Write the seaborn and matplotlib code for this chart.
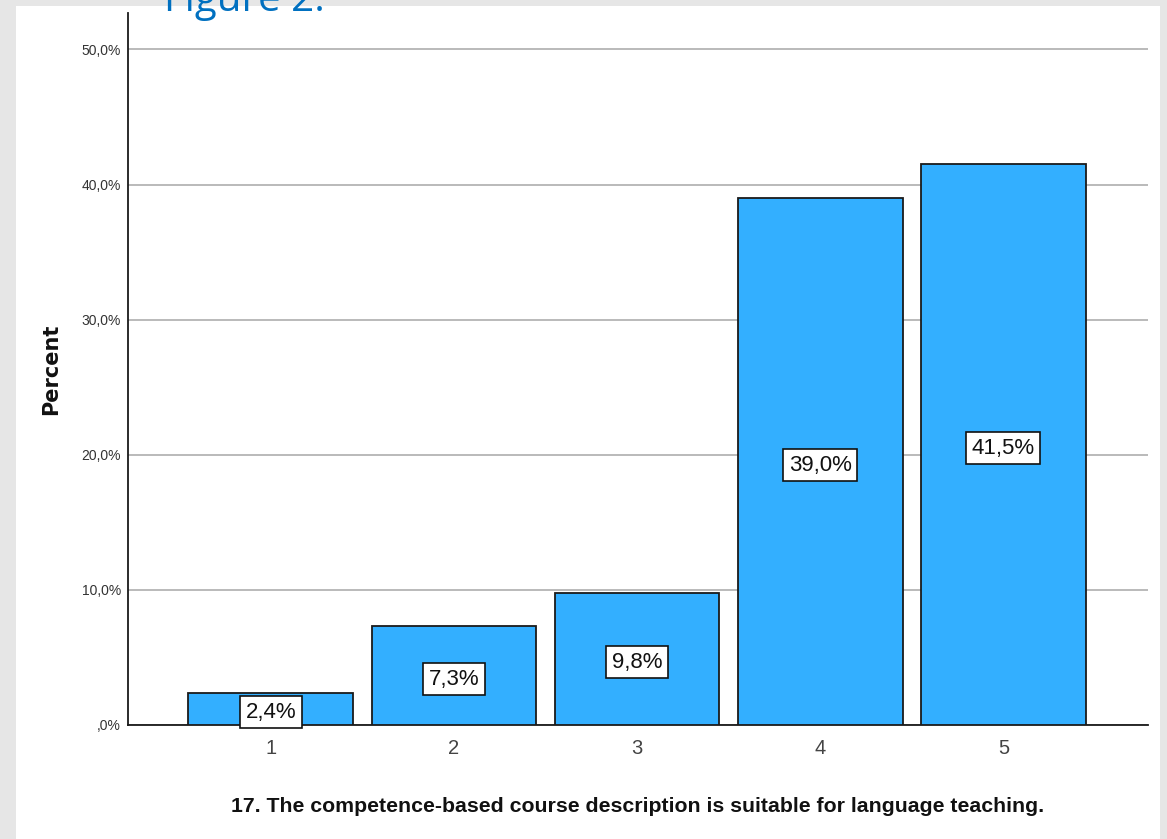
import matplotlib
matplotlib.use("Agg")
import matplotlib.pyplot as plt
import seaborn as sns
import pandas as pd
from matplotlib.patches import Rectangle
from matplotlib.ticker import FuncFormatter

categories = ["1", "2", "3", "4", "5"]
percents = [2.4, 7.3, 9.8, 39.0, 41.5]
bar_labels = ["2,4%", "7,3%", "9,8%", "39,0%", "41,5%"]
y_ticks = [0, 10, 20, 30, 40, 50]
x_title = "17. The competence-based course description is suitable for language teaching."
y_title = "Percent"
fig_title = "Figure 2."

sns.set_theme(style="white")
plt.rcParams['font.family'] = ["Liberation Sans", "DejaVu Sans"]

df = pd.DataFrame({"cat": categories, "pct": percents})

W, H = 1167, 839
fig = plt.figure(figsize=(W / 100, H / 100), dpi=100, facecolor="#e6e6e6")
fig.patches.append(Rectangle((16 / W, 0), (1160 - 16) / W, 1 - 6 / H,
                             transform=fig.transFigure, facecolor="white",
                             edgecolor="none", zorder=-5))

ax = fig.add_axes([128 / W, 1 - 725 / H, (1148 - 128) / W, (725 - 13) / H])
ax.set_zorder(2)
ax.set_facecolor("none")
sns.barplot(data=df, x="cat", y="pct", color="#33afff", width=0.9,
            edgecolor="#1a1a1a", linewidth=1.3, saturation=1, ax=ax, zorder=3)
for p in ax.patches:
    p.set_facecolor("#33afff")

ax.set_xlim(-0.78, 4.79)
ax.set_ylim(0, 52.7)
ax.set_yticks(y_ticks)


def fmt(v, _):
    s = ("%.1f" % v).replace(".", ",")
    if s.startswith("0,"):
        s = s[1:]
    return s + "%"


ax.yaxis.set_major_formatter(FuncFormatter(fmt))
ax.grid(axis="y", color="#b4b4b4", linewidth=1.3, zorder=0)
ax.grid(axis="x", visible=False)
ax.set_axisbelow(True)
for s in ["top", "right"]:
    ax.spines[s].set_visible(False)
for s in ["left", "bottom"]:
    ax.spines[s].set_color("#1a1a1a")
    ax.spines[s].set_linewidth(1.3)
ax.tick_params(axis="y", length=0, pad=5, labelsize=10, labelcolor="#333333")
ax.tick_params(axis="x", length=0, pad=10, labelsize=14.5, labelcolor="#444444")

for i, (v, lab) in enumerate(zip(percents, bar_labels)):
    ax.annotate(lab, xy=(i, v / 2), xytext=(0, -2.5), textcoords="offset points",
                ha="center", va="center", fontsize=16, color="#111111", zorder=5,
                bbox=dict(boxstyle="square,pad=0.25", facecolor="white",
                          edgecolor="#111111", linewidth=1.2))

ax.set_xlabel(x_title, fontsize=15.3, fontweight="bold", color="#111111", labelpad=28)
ax.set_ylabel(y_title, fontsize=15, fontweight="bold", color="#111111",
              family=["DejaVu Sans"])
ax.yaxis.set_label_coords(-0.066, 0.5)

fig.text(244 / W, 1 - 11 / H, fig_title, ha="center", va="baseline",
         fontsize=29, color="#0070c0", family=["Open Sans", "DejaVu Sans"])

fig.savefig("out.png", dpi=100, facecolor=fig.get_facecolor())
